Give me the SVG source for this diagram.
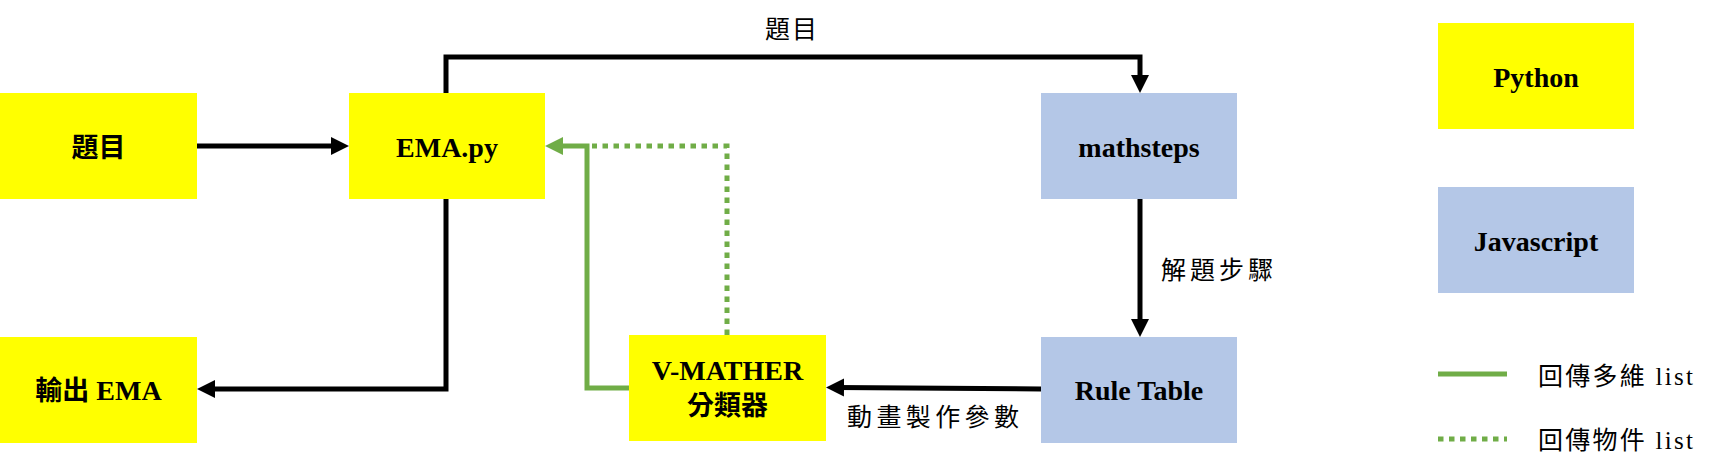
<svg xmlns="http://www.w3.org/2000/svg" width="1712" height="475" viewBox="0 0 1712 475">
<style>
.py{fill:#FFFF00}
.js{fill:#B4C7E7}
.nt{font-family:"Liberation Serif","Noto Sans CJK TC",serif;font-weight:bold;font-size:28px;fill:#000;text-anchor:middle}
.cj{font-size:27px}
.lb{font-family:"Liberation Serif","Noto Sans CJK TC",serif;font-size:25px;fill:#000}
.blk{fill:none;stroke:#000;stroke-width:5}
.grn{fill:none;stroke:#70AD47;stroke-width:5}
.dot{fill:none;stroke:#70AD47;stroke-width:5;stroke-dasharray:5.5 5.5}
</style>
<defs>
<marker id="ab" markerUnits="userSpaceOnUse" markerWidth="20" markerHeight="20" refX="8" refY="9" orient="auto" viewBox="0 0 20 20">
<path d="M0,0 L18,9 L0,18 Z" fill="#000"/>
</marker>
<marker id="ag" markerUnits="userSpaceOnUse" markerWidth="20" markerHeight="20" refX="8" refY="9" orient="auto" viewBox="0 0 20 20">
<path d="M0,0 L18,9 L0,18 Z" fill="#70AD47"/>
</marker>
</defs>

<g id="connectors">
<path class="blk" d="M197,146 H339" marker-end="url(#ab)"/>
<path class="blk" d="M446,93 V57 H1140 V83" marker-end="url(#ab)"/>
<path class="blk" d="M1140,199 V327" marker-end="url(#ab)"/>
<path class="blk" d="M1041,389 L836,387.5" marker-end="url(#ab)"/>
<path class="blk" d="M446,199 V389 H207" marker-end="url(#ab)"/>
<path class="dot" d="M727,335 V146 H592"/>
<path class="grn" d="M629,388 H587 V146 H555" marker-end="url(#ag)"/>
<text class="lb" x="765" y="38" textLength="52" lengthAdjust="spacing" font-size="24">題目</text>
<text class="lb" x="1161" y="279" textLength="112" lengthAdjust="spacing">解題步驟</text>
<text class="lb" x="847" y="426" textLength="172" lengthAdjust="spacing">動畫製作參數</text>
</g>

<g id="node-timu">
<rect class="py" x="0" y="93" width="197" height="106"/>
<text class="nt cj" x="98.5" y="157">題目</text>
</g>
<g id="node-ema">
<rect class="py" x="349" y="93" width="196" height="106"/>
<text class="nt" x="447" y="157">EMA.py</text>
</g>
<g id="node-mathsteps">
<rect class="js" x="1041" y="93" width="196" height="106"/>
<text class="nt" x="1139" y="157">mathsteps</text>
</g>
<g id="node-ruletable">
<rect class="js" x="1041" y="337" width="196" height="106"/>
<text class="nt" x="1139" y="400">Rule Table</text>
</g>
<g id="node-vmather">
<rect class="py" x="629" y="335" width="197" height="106"/>
<text class="nt" x="727.5" y="380">V-MATHER</text>
<text class="nt cj" x="727.5" y="415">分類器</text>
</g>
<g id="node-output">
<rect class="py" x="0" y="337" width="197" height="106"/>
<text class="nt" x="98.5" y="400"><tspan class="cj">輸出</tspan> EMA</text>
</g>

<g id="legend-python">
<rect class="py" x="1438" y="23" width="196" height="106"/>
<text class="nt" x="1536" y="87">Python</text>
</g>
<g id="legend-javascript">
<rect class="js" x="1438" y="187" width="196" height="106"/>
<text class="nt" x="1536" y="251">Javascript</text>
</g>
<g id="legend-solid">
<path class="grn" d="M1438,374 H1507" stroke-width="5.5"/>
<text class="lb" x="1538" y="385" textLength="155" lengthAdjust="spacing">回傳多維 list</text>
</g>
<g id="legend-dotted">
<path class="dot" d="M1438,439 H1507" stroke-width="5.5"/>
<text class="lb" x="1538" y="449" textLength="155" lengthAdjust="spacing">回傳物件 list</text>
</g>
</svg>
